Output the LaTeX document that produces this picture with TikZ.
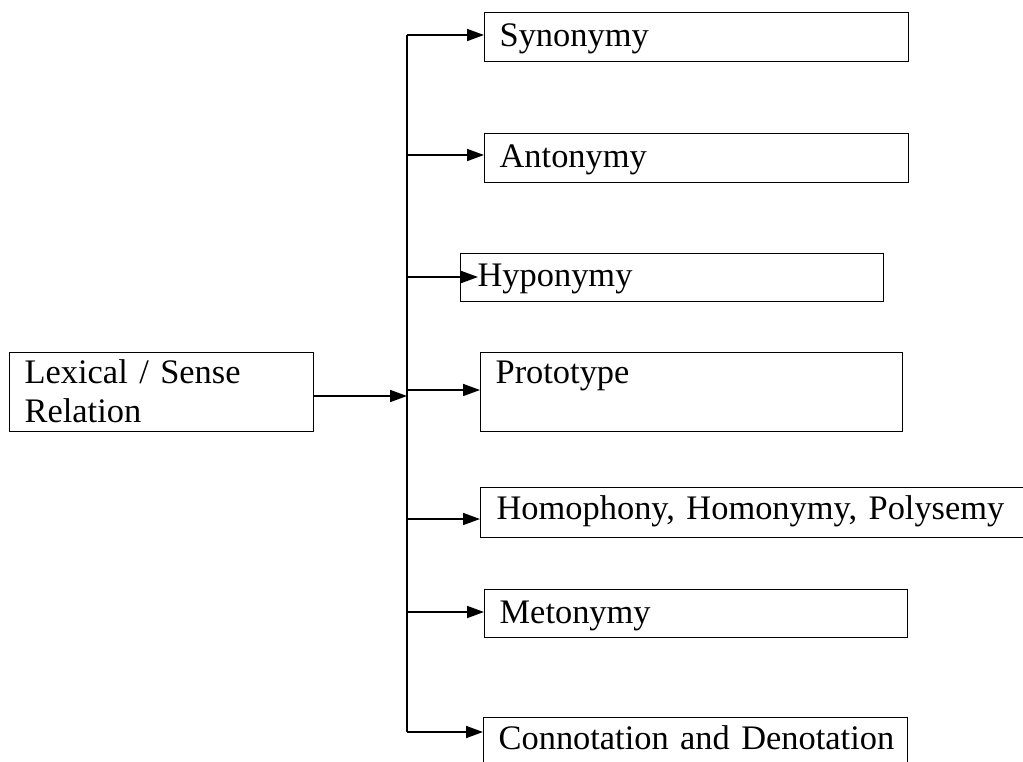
\documentclass[tikz,border=0pt]{standalone}
\usepackage{fontspec}
\setmainfont{Liberation Serif}
\usetikzlibrary{arrows.meta}
\tikzset{
  rel/.style={draw, line width=0.65pt, anchor=north west, inner sep=0pt,
    inner xsep=7.5pt, align=left, font=\fontsize{17.2}{19.5}\selectfont},
  link/.style={line width=0.85pt, -{Triangle[length=8.5pt,width=6pt]}}
}
\begin{document}
\begin{tikzpicture}[x=0.5pt,y=-0.5pt]
      \useasboundingbox (0,0) rectangle (1023,761);
      \node[rel, text width=137pt, text height=15.5pt, text depth=24pt] (lex) at (9,352) {Lexical / Sense\\Relation};
      \node[rel, text width=197pt, text height=17pt, text depth=7.5pt] (syn) at (484,12) {Synonymy};
      \node[rel, text width=197pt, text height=17pt, text depth=7.5pt] (ant) at (484,133) {Antonymy};
      \node[rel, inner xsep=8.5pt, text width=194.5pt, text height=16.5pt, text depth=7.5pt] (hyp) at (460,253) {Hyponymy};
      \node[rel, text width=196pt, text height=15.5pt, text depth=24pt] (pro) at (480,352) {Prototype};
      \node[rel, inner xsep=8pt, text width=256.5pt, text height=16pt, text depth=9pt] (hom) at (480,487) {\mbox{Homophony, Homonymy, Polysemy}};
      \node[rel, text width=196.5pt, text height=17pt, text depth=7pt] (met) at (484,589) {Metonymy};
      \node[rel, text width=197pt, text height=16pt, text depth=8pt] (con) at (483,717) {\mbox{Connotation and Denotation}};
      % spine
      \coordinate (j) at (407,396);
      \coordinate (s1) at (407,35);
      \coordinate (s2) at (407,155);
      \coordinate (s3) at (407,277);
      \coordinate (s4) at (407,390);
      \coordinate (s5) at (407,519);
      \coordinate (s6) at (407,612);
      \coordinate (s7) at (407,732);
      \draw[line width=0.85pt] (s1) -- (s7);
      \begin{scope}[link]
        \draw (j -| lex.east) -- (j);
        \draw (s1) -- (s1 -| syn.west);
        \draw (s2) -- (s2 -| ant.west);
        \draw (s3) -- ([xshift=9pt]s3 -| hyp.west);
        \draw (s4) -- (s4 -| pro.west);
        \draw (s5) -- (s5 -| hom.west);
        \draw (s6) -- (s6 -| met.west);
        \draw (s7) -- (s7 -| con.west);
      \end{scope}
    \end{tikzpicture}
\end{document}
